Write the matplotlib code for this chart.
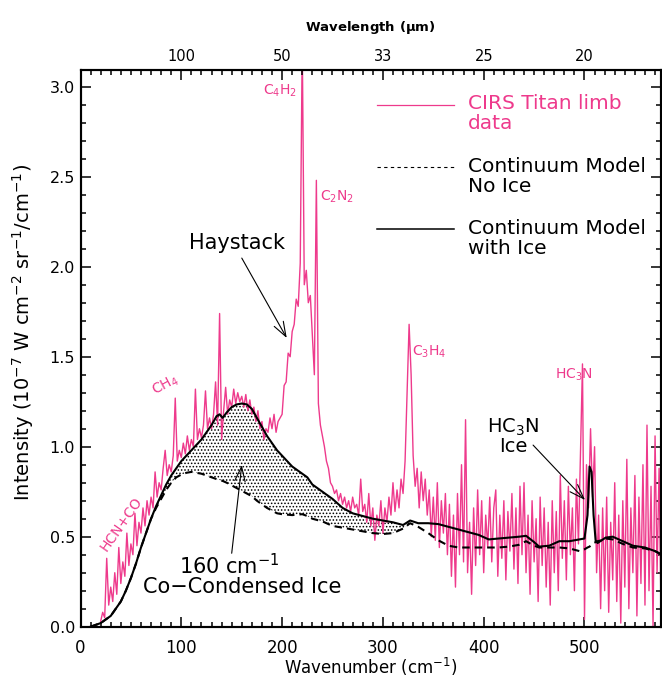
import numpy as np
import matplotlib.pyplot as plt

plt.rcParams['font.family'] = 'DejaVu Sans'
plt.rcParams['mathtext.default'] = 'regular'
plt.rcParams['hatch.linewidth'] = 0.7

PINK = '#ee3a8c'

# CIRS limb spectrum, sampled every 2 cm-1 from 20 to 580 cm-1
spec_start, spec_step = 20, 2
spec_intensity = [
    0.03, 0.08, 0.05, 0.38, 0.12, 0.22, 0.14, 0.30, 0.18, 0.44,   # 20-38
    0.24, 0.36, 0.28, 0.52, 0.34, 0.46, 0.40, 0.63, 0.45, 0.58,   # 40-58
    0.52, 0.66, 0.56, 0.70, 0.62, 0.72, 0.66, 0.86, 0.72, 0.80,   # 60-78
    0.76, 0.88, 0.98, 0.84, 0.90, 0.86, 0.95, 1.27, 0.92, 0.98,   # 80-98
    0.94, 1.02, 0.96, 1.06, 0.98, 1.04, 1.00, 1.32, 1.04, 1.10,   # 100-118
    1.05, 1.12, 1.31, 1.10, 1.16, 1.10, 1.18, 1.36, 1.12, 1.74,   # 120-138
    1.04, 1.20, 1.33, 1.18, 1.26, 1.22, 1.32, 1.24, 1.30, 1.25,   # 140-158
    1.28, 1.22, 1.29, 1.20, 1.26, 1.18, 1.22, 1.14, 1.20, 1.10,   # 160-178
    1.14, 1.04, 1.10, 1.08, 1.16, 1.10, 1.18, 1.08, 1.14, 1.16,   # 180-198
    1.18, 1.34, 1.36, 1.52, 1.50, 1.64, 1.68, 1.82, 1.78, 2.02,   # 200-218
    3.25, 1.90, 1.98, 1.80, 1.84, 1.62, 1.40, 2.48, 1.24, 1.12,   # 220-238
    1.06, 1.00, 0.92, 0.88, 0.80, 0.78, 0.74, 0.76, 0.70, 0.74,   # 240-258
    0.68, 0.72, 0.66, 0.70, 0.64, 0.72, 0.66, 0.68, 0.62, 0.82,   # 260-278
    0.64, 0.68, 0.58, 0.74, 0.56, 0.66, 0.48, 0.62, 0.56, 0.70,   # 280-298
    0.52, 0.66, 0.58, 0.72, 0.62, 0.80, 0.64, 0.76, 0.66, 0.82,   # 300-318
    0.74, 0.92, 1.30, 1.68, 1.40, 0.95, 0.78, 0.88, 0.66, 0.86,   # 320-338
    0.70, 0.82, 0.62, 0.76, 0.50, 0.72, 0.48, 0.80, 0.44, 0.70,   # 340-358
    0.52, 0.74, 0.40, 0.68, 0.28, 0.62, 0.22, 0.74, 0.40, 0.90,   # 360-378
    0.36, 1.15, 0.30, 0.58, 0.18, 0.66, 0.34, 0.76, 0.40, 0.70,   # 380-398
    0.30, 0.62, 0.44, 0.72, 0.36, 0.66, 0.76, 0.28, 0.62, 0.38,   # 400-418
    0.70, 0.26, 0.64, 0.42, 0.74, 0.32, 0.66, 0.24, 0.78, 0.40,   # 420-438
    0.80, 0.30, 0.62, 0.18, 0.70, 0.36, 0.60, 0.14, 0.72, 0.34,   # 440-458
    0.66, 0.22, 0.58, 0.12, 0.70, 0.30, 0.64, 0.20, 0.84, 0.38,   # 460-478
    0.70, 0.26, 0.78, 0.40, 0.66, 0.20, 0.82, 0.46, 0.97, 1.46,   # 480-498
    0.04, 0.90, 0.66, 1.10, 0.72, 1.00, 0.30, 0.62, 0.10, 0.66,   # 500-518
    0.20, 0.72, 0.08, 0.58, 0.26, 0.80, 0.14, 0.62, 0.02, 0.70,   # 520-538
    0.22, 0.93, 0.10, 0.66, 0.30, 0.84, 0.06, 0.72, 0.24, 0.90,   # 540-558
    0.12, 1.12, 0.20, 0.78, 0.00, 1.06, 0.30, 0.88, 0.06, 1.12,   # 560-578
    0.20,                                                         # 580
]
spec_wn = spec_start + spec_step * np.arange(len(spec_intensity))

# continuum models on a shared wavenumber grid
model_wn = [10, 15, 20, 25, 30, 35, 40, 45, 50, 55, 60, 65, 70, 75, 80, 85,
            90, 95, 100, 105, 110, 115, 120, 125, 130, 135, 138, 141, 145,
            150, 155, 160, 165, 170, 175, 180, 185, 190, 195, 200, 210, 220,
            225, 230, 240, 250, 260, 270, 280, 290, 300, 310, 320, 327, 335,
            345, 355, 365, 375, 385, 395, 405, 415, 425, 435, 442, 450, 455,
            465, 475, 485, 495, 500, 503, 505, 507, 509, 511, 513, 517, 521,
            528, 538, 548, 560, 570, 580]
model_ice = [0.00, 0.01, 0.02, 0.04, 0.06, 0.10, 0.14, 0.20, 0.27, 0.35, 0.44,
             0.52, 0.60, 0.67, 0.73, 0.79, 0.84, 0.88, 0.92, 0.95, 0.98, 1.01,
             1.04, 1.08, 1.12, 1.17, 1.18, 1.16, 1.19, 1.22, 1.235, 1.24,
             1.235, 1.21, 1.16, 1.11, 1.06, 1.02, 0.98, 0.95, 0.89, 0.85,
             0.83, 0.79, 0.75, 0.71, 0.66, 0.63, 0.615, 0.60, 0.59, 0.58,
             0.565, 0.59, 0.575, 0.575, 0.57, 0.555, 0.54, 0.525, 0.51, 0.485,
             0.49, 0.495, 0.50, 0.505, 0.47, 0.445, 0.45, 0.475, 0.475, 0.485,
             0.49, 0.62, 0.89, 0.86, 0.62, 0.48, 0.465, 0.48, 0.495, 0.50,
             0.475, 0.45, 0.44, 0.42, 0.39]
model_no_ice = [0.00, 0.01, 0.02, 0.04, 0.06, 0.10, 0.14, 0.20, 0.27, 0.35,
                0.44, 0.52, 0.60, 0.66, 0.71, 0.76, 0.80, 0.83, 0.845, 0.855,
                0.86, 0.855, 0.85, 0.84, 0.83, 0.82, 0.815, 0.81, 0.80, 0.785,
                0.77, 0.755, 0.74, 0.725, 0.70, 0.68, 0.66, 0.645, 0.63, 0.625,
                0.62, 0.625, 0.615, 0.60, 0.585, 0.56, 0.55, 0.54, 0.53, 0.52,
                0.515, 0.52, 0.545, 0.575, 0.555, 0.52, 0.48, 0.45, 0.44, 0.44,
                0.44, 0.44, 0.44, 0.445, 0.455, 0.475, 0.45, 0.44, 0.44, 0.44,
                0.435, 0.42, 0.43, 0.44, 0.445, 0.455, 0.465, 0.47, 0.475,
                0.48, 0.49, 0.485, 0.46, 0.44, 0.435, 0.42, 0.39]

# top axis: wavelength in microns at 100..500 cm-1
wl_ticks = [100, 200, 300, 400, 500]
wl_labels = ['100', '50', '33', '25', '20']

fig = plt.figure(figsize=(6.62, 6.79), dpi=100)
ax = fig.add_axes([80.5 / 662, 52.3 / 679, 580.3 / 662, 556.7 / 679])

wn = np.array(model_wn)
ice = np.array(model_ice)
no_ice = np.array(model_no_ice)

# stippled band for the co-condensed ice contribution
ax.fill_between(wn, no_ice, ice, where=(wn >= 70) & (wn <= 327),
                facecolor='none', edgecolor='black', hatch='.....',
                linewidth=0, zorder=1)
ax.plot(spec_wn, spec_intensity, color=PINK, lw=1.0, zorder=2)
ax.plot(wn, no_ice, color='black', lw=1.5, dashes=(3.6, 2.4), zorder=3)
ax.plot(wn, ice, color='black', lw=1.5, zorder=4)

ax.set_xlim(0, 575.7)
ax.set_ylim(0, 3.093)
ax.set_xticks(np.arange(0, 501, 100))
ax.set_xticks(np.arange(0, 576, 10), minor=True)
ax.set_yticks(np.arange(0, 3.01, 0.5))
ax.set_yticks(np.arange(0, 3.09, 0.1), minor=True)
ax.set_yticklabels([f'{v:.1f}' for v in np.arange(0, 3.01, 0.5)])
ax.tick_params(which='both', direction='in', top=False, right=True, width=1.1)
ax.tick_params(which='major', length=7.5)
ax.tick_params(which='minor', length=3.6)
ax.tick_params(axis='x', labelsize=12, pad=9)
ax.tick_params(axis='y', labelsize=11.5, pad=4)
for sp in ax.spines.values():
    sp.set_linewidth(1.5)

ax.set_xlabel('Wavenumber (cm$^{-1}$)', fontsize=12)
ax.xaxis.set_label_coords(0.5, -0.052)
ax.set_ylabel('Intensity (10$^{-7}$ W cm$^{-2}$ sr$^{-1}$/cm$^{-1}$)',
              fontsize=14)
ax.yaxis.set_label_coords(-0.077, 0.528)

ax2 = ax.twiny()
ax2.set_xlim(ax.get_xlim())
ax2.set_xticks(wl_ticks)
ax2.set_xticklabels(wl_labels)
ax2.set_xticks(np.arange(0, 576, 10), minor=True)
ax2.tick_params(which='both', direction='in', top=True, bottom=False,
                width=1.1, labelsize=10.5, pad=4)
ax2.tick_params(which='major', length=7.5)
ax2.tick_params(which='minor', length=3.6)
ax2.set_xlabel('Wavelength ($\\mu$m)', fontsize=9.5, fontweight='bold',
               labelpad=13)
for sp in ax2.spines.values():
    sp.set_linewidth(1.5)

# molecule labels on the emission features
small = dict(color=PINK, fontsize=10)
ax.text(198, 2.98, 'C$_4$H$_2$', ha='center', va='center', **small)
ax.text(238, 2.39, 'C$_2$N$_2$', ha='left', va='center', **small)
ax.text(329, 1.53, 'C$_3$H$_4$', ha='left', va='center', **small)
ax.text(490, 1.40, 'HC$_3$N', ha='center', va='center', **small)
ax.text(84, 1.34, 'CH$_4$', ha='center', va='center', rotation=28, **small)
ax.text(41, 0.57, 'HCN+CO', ha='center', va='center', rotation=55, **small)

# annotations
arrow = dict(arrowstyle='->,head_length=0.7,head_width=0.25', color='black',
             lw=0.8, shrinkA=0, shrinkB=0, mutation_scale=15)
ax.text(155, 2.13, 'Haystack', ha='center', va='center', fontsize=15)
ax.annotate('', xy=(204.6, 1.604), xytext=(160, 2.048), arrowprops=arrow)
ax.text(148, 0.34, '160 cm$^{-1}$', ha='center', va='center', fontsize=15)
ax.text(160, 0.22, 'Co\u2212Condensed Ice', ha='center', va='center',
        fontsize=15)
ax.annotate('', xy=(160, 0.898), xytext=(150, 0.408), arrowprops=arrow)
ax.text(429, 1.11, 'HC$_3$N', ha='center', va='center', fontsize=14)
ax.text(429, 1.00, 'Ice', ha='center', va='center', fontsize=14)
ax.annotate('', xy=(500.5, 0.704), xytext=(449, 1.009), arrowprops=arrow)

# legend drawn in place
leg_x0, leg_x1, leg_tx = 294, 371, 384.4
ax.plot([leg_x0, leg_x1], [2.90, 2.90], color=PINK, lw=0.9)
ax.plot([leg_x0, leg_x1], [2.554, 2.554], color='black', lw=0.8,
        dashes=(3, 3))
ax.plot([leg_x0, leg_x1], [2.21, 2.21], color='black', lw=1.1)
leg_font = dict(fontsize=14.5, ha='left', va='center')
ax.text(leg_tx, 2.909, 'CIRS Titan limb', color=PINK, **leg_font)
ax.text(leg_tx, 2.798, 'data', color=PINK, **leg_font)
ax.text(leg_tx, 2.559, 'Continuum Model', **leg_font)
ax.text(leg_tx, 2.443, 'No Ice', **leg_font)
ax.text(leg_tx, 2.215, 'Continuum Model', **leg_font)
ax.text(leg_tx, 2.104, 'with Ice', **leg_font)

fig.savefig('out.png', dpi=100)
